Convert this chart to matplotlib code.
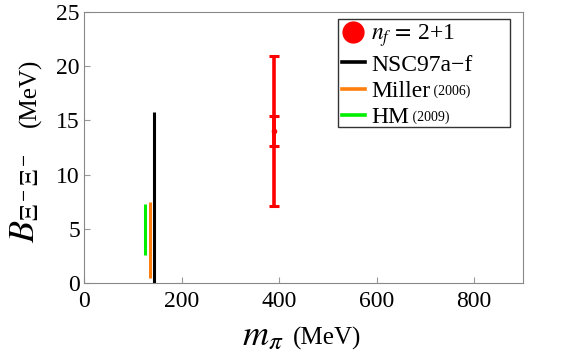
import matplotlib
matplotlib.use("Agg")
import matplotlib.pyplot as plt
from matplotlib.lines import Line2D
from matplotlib.patches import Rectangle

plt.rcParams['font.family'] = ['Liberation Serif', 'DejaVu Serif']
plt.rcParams['mathtext.fontset'] = 'stix'

# lattice point (n_f = 2+1)
m_pi_lat = 390
B_lat = 14.0
err_stat = 1.4
err_tot = 6.9

# model ranges: (m_pi, B_low, B_high)
models = ['NSC97a\u2212f', 'Miller', 'HM']
years = ['', '(2006)', '(2009)']
m_pi_mod = [144, 135, 126]
B_low = [0.0, 0.5, 2.55]
B_high = [15.75, 7.45, 7.25]
colors = ['black', '#ff7f0e', '#00ee00']

fig = plt.figure(figsize=(5.81, 3.63), dpi=100)
ax = fig.add_axes([0.1446, 0.2204, 0.7556, 0.7466])

for m, lo, hi, c in zip(m_pi_mod, B_low, B_high, colors):
    ax.plot([m, m], [lo, hi], color=c, lw=2.2, solid_capstyle='butt')

ax.errorbar([m_pi_lat], [B_lat], yerr=[err_tot], color='red', lw=2.6,
            capsize=3.5, capthick=2.2, fmt='none')
ax.errorbar([m_pi_lat], [B_lat], yerr=[err_stat], color='red', lw=2.6,
            capsize=3.5, capthick=2.2, fmt='o', ms=3)

ax.set_xlim(0, 900)
ax.set_ylim(0, 25)
ax.set_xticks([0, 200, 400, 600, 800])
ax.set_yticks([0, 5, 10, 15, 20, 25])
ax.tick_params(direction='in', length=4, color='#999999', labelsize=17)
ax.tick_params(axis='x', pad=6)
ax.tick_params(axis='y', pad=3)
for s in ax.spines.values():
    s.set_color('#888888')

# axis titles
fig.text(0.488, 0.05, r'$m_\pi$', fontsize=26, ha='right', va='baseline')
fig.text(0.504, 0.05, '(MeV)', fontsize=18, ha='left', va='baseline')
fig.text(0.045, 0.455, r'$B_{\Xi^-\Xi^-}$', fontsize=26, rotation=90,
         ha='center', va='center')
fig.text(0.052, 0.745, '(MeV)', fontsize=18, rotation=90,
         ha='center', va='center')

# legend with a hand-drawn frame
ax.add_patch(Rectangle((0.5786, 0.5756), 0.3914, 0.3984, transform=ax.transAxes,
                       fill=True, facecolor='white', edgecolor='#333333',
                       lw=1.0, zorder=4))
handles = [Line2D([], [], color='red', marker='o', ms=15, ls='none')]
handles += [Line2D([], [], color=c, lw=2.6) for c in colors]
labels = [r'$n_f\,=\,$2+1'] + models
leg = ax.legend(handles, labels, loc='upper left',
                bbox_to_anchor=(0.5786, 0.974), fontsize=17, frameon=False,
                handlelength=1.0, handletextpad=0.25, borderpad=0.15,
                labelspacing=0.2, borderaxespad=0)

fig.canvas.draw()
texts = leg.get_texts()
for t, y in zip(texts[1:], years):
    if y:
        ax.annotate(' ' + y, xy=(1, 0.2), xycoords=t, fontsize=10,
                    ha='left', va='bottom', zorder=10)

fig.savefig('out.png', dpi=100)
